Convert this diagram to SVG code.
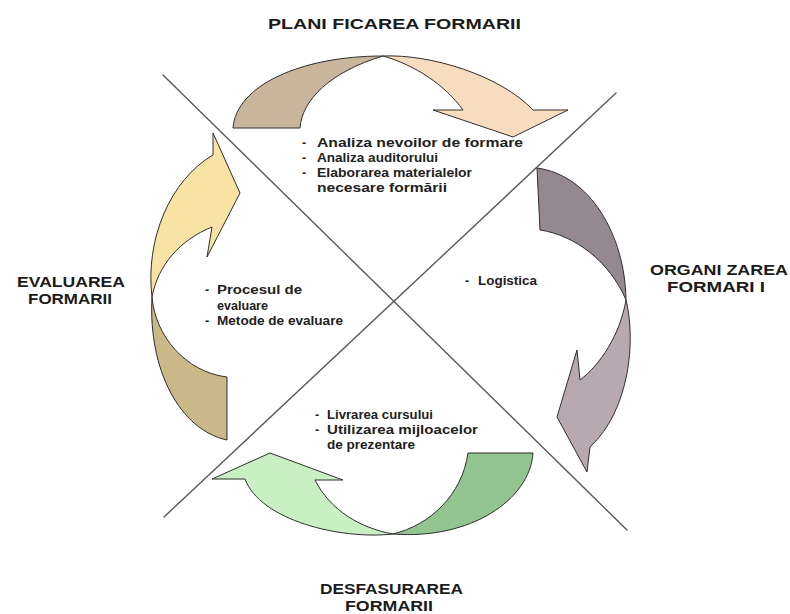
<svg xmlns="http://www.w3.org/2000/svg" width="790" height="614" viewBox="0 0 790 614">
<style>
.bg{fill:#ffffff}
.div{stroke:#5a5a5a;stroke-width:1.4;fill:none;stroke-linecap:round}
.arr{stroke:#2e2e2e;stroke-width:1;stroke-linejoin:miter}
.h{font-family:"Liberation Sans",Arial,sans-serif;font-weight:bold;font-size:15px;fill:#1b1b1b}
.t{font-family:"Liberation Sans",Arial,sans-serif;font-weight:bold;font-size:12.5px;fill:#222222}
</style>
<rect class="bg" x="0" y="0" width="790" height="614"/>
<g id="dividers">
<line class="div" x1="163" y1="75" x2="627" y2="530"/>
<line class="div" x1="616" y1="93" x2="164" y2="517"/>
</g>
<g id="connectors">
<g id="arrow-top">
<path class="arr" fill="#f8dcbf" d="M383,56 C430,54 500,75 533,110 L568,110 L513,137 L433,110 L463,110 C445,85 415,65 383,56 Z"/>
<path class="arr" fill="#c9b59b" d="M233,128 L300,128 C302,100 330,72 383,56 C300,56 236,86 233,128 Z"/>
</g>
<g id="arrow-right">
<path class="arr" fill="#b7a9af" d="M626,300 C636,340 630,410 590,447 L587,472 L557,417 L577,350 L580,380 C600,365 620,335 626,300 Z"/>
<path class="arr" fill="#968891" d="M537,168 L540,230 C575,235 610,262 626,300 C625,235 590,175 537,168 Z"/>
</g>
<g id="arrow-bottom">
<path class="arr" fill="#caefc4" d="M393,534 C340,540 260,520 245,479 L212,479 L270,453 L343,480 L315,480 C330,510 360,528 393,534 Z"/>
<path class="arr" fill="#92c48f" d="M468,453 L533,453 C530,500 470,540 393,534 C430,525 462,495 468,453 Z"/>
</g>
<g id="arrow-left">
<path class="arr" fill="#f8e3a4" d="M152,297 C145,240 170,180 213,155 L213,133 L240,193 L207,257 L212,227 C180,240 158,265 152,297 Z"/>
<path class="arr" fill="#cbb889" d="M227,377 L227,440 C180,430 148,370 152,297 C155,335 185,372 227,377 Z"/>
</g>
</g>
<g id="node-planificarea">
<text class="h" x="268" y="29" textLength="253" lengthAdjust="spacingAndGlyphs">PLANI FICAREA FORMARII</text>
<text class="t" x="302" y="147">-</text><text class="t" x="317" y="147" textLength="206" lengthAdjust="spacingAndGlyphs">Analiza nevoilor de formare</text>
<text class="t" x="302" y="162">-</text><text class="t" x="317" y="162" textLength="121" lengthAdjust="spacingAndGlyphs">Analiza auditorului</text>
<text class="t" x="302" y="177">-</text><text class="t" x="317" y="177" textLength="155" lengthAdjust="spacingAndGlyphs">Elaborarea materialelor</text>
<text class="t" x="317" y="192" textLength="130" lengthAdjust="spacingAndGlyphs">necesare formării</text>
</g>
<g id="node-organizarea">
<text class="h" x="650" y="275" textLength="138" lengthAdjust="spacingAndGlyphs">ORGANI ZAREA</text>
<text class="h" x="667" y="292" textLength="98" lengthAdjust="spacingAndGlyphs">FORMARI I</text>
<text class="t" x="465" y="285">-</text><text class="t" x="478" y="285" textLength="59" lengthAdjust="spacingAndGlyphs">Logistica</text>
</g>
<g id="node-desfasurarea">
<text class="h" x="320" y="594" textLength="143" lengthAdjust="spacingAndGlyphs">DESFASURAREA</text>
<text class="h" x="345" y="611" textLength="88" lengthAdjust="spacingAndGlyphs">FORMARII</text>
<text class="t" x="315" y="419">-</text><text class="t" x="327" y="419" textLength="106" lengthAdjust="spacingAndGlyphs">Livrarea cursului</text>
<text class="t" x="315" y="434">-</text><text class="t" x="327" y="434" textLength="151" lengthAdjust="spacingAndGlyphs">Utilizarea mijloacelor</text>
<text class="t" x="327" y="449" textLength="88" lengthAdjust="spacingAndGlyphs">de prezentare</text>
</g>
<g id="node-evaluarea">
<text class="h" x="17" y="287" textLength="108" lengthAdjust="spacingAndGlyphs">EVALUAREA</text>
<text class="h" x="28" y="304" textLength="84" lengthAdjust="spacingAndGlyphs">FORMARII</text>
<text class="t" x="205" y="294">-</text><text class="t" x="217" y="294" textLength="85" lengthAdjust="spacingAndGlyphs">Procesul de</text>
<text class="t" x="217" y="310" textLength="51" lengthAdjust="spacingAndGlyphs">evaluare</text>
<text class="t" x="205" y="325">-</text><text class="t" x="217" y="325" textLength="126" lengthAdjust="spacingAndGlyphs">Metode de evaluare</text>
</g>
</svg>
